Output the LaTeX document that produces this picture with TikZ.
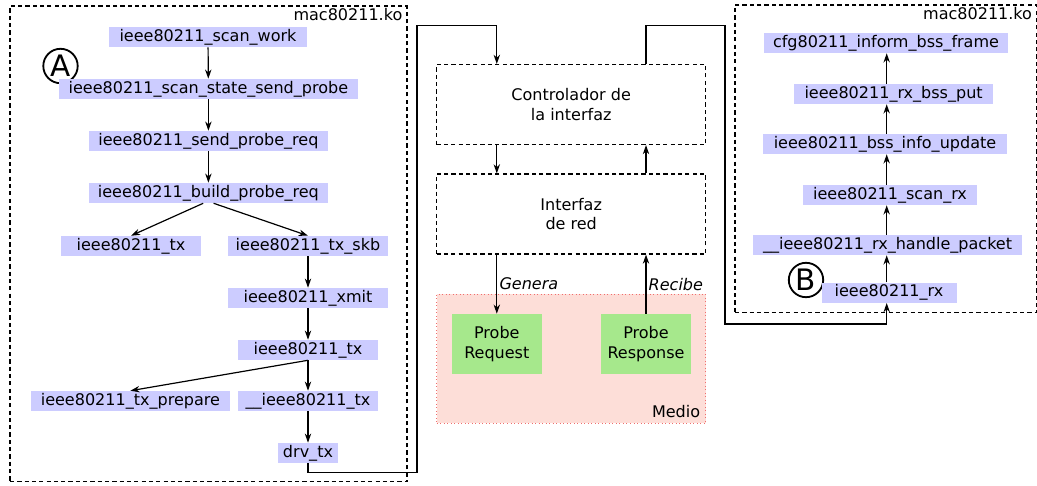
\documentclass[tikz,border=0pt]{standalone}
\usepackage{fontspec}
\setmainfont{DejaVu Sans}
\usetikzlibrary{arrows.meta}
\definecolor{fnblue}{RGB}{204,204,255}
\definecolor{pktgreen}{RGB}{166,232,140}
\definecolor{airpink}{RGB}{253,222,216}
\definecolor{airred}{RGB}{240,110,110}

\begin{document}
\begin{tikzpicture}[
  >={Stealth[length=6.5pt, width=4.5pt, inset=2pt]},
  font=\fontsize{11.4}{13.8}\selectfont,
  func/.style={fill=fnblue, minimum height=5mm, inner xsep=2pt, inner ysep=1pt},
  module/.style={draw, dash pattern=on 3pt off 2.2pt, line width=0.8pt},
  stage/.style={draw, dash pattern=on 3pt off 2.2pt, line width=0.8pt, align=center, minimum width=6.73cm, minimum height=2cm},
  packet/.style={fill=pktgreen, align=center, minimum width=2.26cm, minimum height=1.5cm},
  medium/.style={draw=airred, fill=airpink, dotted, line width=0.5pt},
  badge/.style={draw, circle, line width=1.3pt, minimum size=8.6mm, inner sep=0pt, font=\fontsize{21}{21}\selectfont},
  lbl/.style={font=\fontsize{11.4}{13.8}\selectfont\itshape, inner sep=1.5pt},
  flow/.style={->, line width=0.85pt}
]
\useasboundingbox (0,0) rectangle (25.925,-12.125);

% Left module: transmission path
\node[module, minimum width=9.925cm, minimum height=11.89cm] (modA) at (5.2125,-6.096) {};
\node[anchor=north east, inner xsep=3.5pt, inner ysep=2pt] (modAname) at (modA.north east) {mac80211.ko};
\node[badge] (tagA) at (1.5125,-1.65) {A};

\node[func, minimum width=4.95cm] (scanwork) at (5.2,-0.925) {ieee80211\_scan\_work};
\node[func, minimum width=7.475cm] (sendprobe) at (5.21,-2.225) {ieee80211\_scan\_state\_send\_probe};
\node[func, minimum width=5.975cm] (probereq) at (5.21,-3.525) {ieee80211\_send\_probe\_req};
\node[func, minimum width=5.975cm] (buildreq) at (5.21,-4.825) {ieee80211\_build\_probe\_req};
\node[func, minimum width=3.5cm] (txa) at (3.275,-6.15) {ieee80211\_tx};
\node[func, minimum width=4cm] (txskb) at (7.7,-6.15) {ieee80211\_tx\_skb};
\node[func, minimum width=4cm] (xmit) at (7.7,-7.45) {ieee80211\_xmit};
\node[func, minimum width=3.5cm] (txb) at (7.7,-8.75) {ieee80211\_tx};
\node[func, minimum width=4.975cm] (prepare) at (3.26,-10.025) {ieee80211\_tx\_prepare};
\node[func, minimum width=3.5cm] (txc) at (7.7,-10.025) {\_\_ieee80211\_tx};
\node[func, minimum width=1.5cm] (drvtx) at (7.7,-11.325) {drv\_tx};

\draw[flow] (scanwork) -- (sendprobe);
\draw[flow] (sendprobe) -- (probereq);
\draw[flow] (probereq) -- (buildreq);
\draw[flow] ([xshift=-1.3mm]buildreq.south) -- (txa.north);
\draw[flow] ([xshift=1.3mm]buildreq.south) -- (txskb.north);
\draw[flow] (txskb) -- (xmit);
\draw[flow] (xmit) -- (txb);
\draw[flow] (txb.south) -- (prepare.north);
\draw[flow] (txb) -- (txc);
\draw[flow] (txc) -- (drvtx);

% Middle: driver, interface and medium
\node[stage] (ctrl) at (14.28,-2.6125) {Controlador de\\la interfaz};
\node[stage] (iface) at (14.28,-5.35) {Interfaz\\de red};
\node[medium, minimum width=6.725cm, minimum height=3.225cm] (medio) at (14.28,-8.9625) {};
\node[anchor=south east, inner sep=4pt] (medioname) at (medio.south east) {Medio};
\node[packet] (preq) at (12.42,-8.6) {Probe\\Request};
\node[packet] (presp) at (16.15,-8.6) {Probe\\Response};

\draw[flow] (preq |- ctrl.south) -- (preq |- iface.north);
\draw[flow] (presp |- iface.north) -- (presp |- ctrl.south);
\draw[flow] (preq |- iface.south) -- node[right, lbl] {Genera} (preq.north);
\draw[flow] (presp.north) -- node[right, lbl] {Recibe} (presp |- iface.south);

% Right module: reception path
\node[module, minimum width=7.54cm, minimum height=7.69cm] (modB) at (22.146,-3.971) {};
\node[anchor=north east, inner xsep=3.5pt, inner ysep=2pt] (modBname) at (modB.north east) {mac80211.ko};
\node[badge] (tagB) at (20.15,-7.0) {B};

\node[func, minimum width=6.1cm] (inform) at (22.15,-1.075) {cfg80211\_inform\_bss\_frame};
\node[func, minimum width=4.975cm] (bssput) at (22.34,-2.35) {ieee80211\_rx\_bss\_put};
\node[func, minimum width=6.1cm] (bssinfo) at (22.125,-3.6) {ieee80211\_bss\_info\_update};
\node[func, minimum width=4.35cm] (scanrx) at (22.25,-4.875) {ieee80211\_scan\_rx};
\node[func, minimum width=6.725cm] (handle) at (22.19,-6.125) {\_\_ieee80211\_rx\_handle\_packet};
\node[func, minimum width=3.375cm] (rx) at (22.225,-7.3175) {ieee80211\_rx};
\coordinate (rxcol) at (22.1675,0);

\foreach \a/\b in {rx/handle, handle/scanrx, scanrx/bssinfo, bssinfo/bssput, bssput/inform}
  \draw[flow] (\a.north -| rxcol) -- (\b.south -| rxcol);

% Links between the modules and the driver
\coordinate (dnL) at (10.425,-11.82);
\coordinate (upL) at (10.425,-0.6425);
\coordinate (upR) at (18.125,-0.6425);
\coordinate (dnR) at (18.125,-8.1);

\draw[flow] (drvtx.south) |- (dnL) -- (upL) -| (preq |- ctrl.north);
\draw[flow] (presp |- ctrl.north) |- (upR) |- (rxcol |- dnR) -- (rx.south -| rxcol);
\end{tikzpicture}
\end{document}
